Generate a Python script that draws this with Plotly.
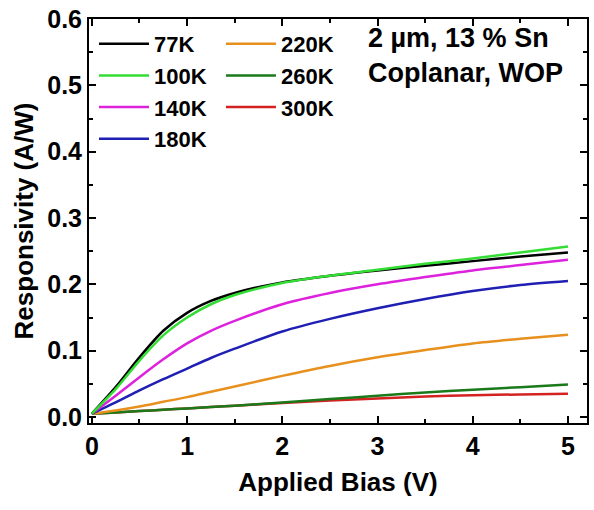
import plotly.graph_objects as go

bias = [0, 0.25, 0.5, 0.75, 1, 1.25, 1.5, 2, 2.5, 3, 3.5, 4, 4.5, 5]
r77 = [0.005, 0.045, 0.090, 0.130, 0.157, 0.175, 0.187, 0.203, 0.213, 0.221, 0.228, 0.235, 0.242, 0.248]
r100 = [0.005, 0.042, 0.085, 0.123, 0.150, 0.170, 0.184, 0.202, 0.213, 0.222, 0.231, 0.239, 0.248, 0.257]
r140 = [0.005, 0.032, 0.060, 0.087, 0.111, 0.130, 0.145, 0.170, 0.187, 0.200, 0.211, 0.221, 0.229, 0.237]
r180 = [0.005, 0.022, 0.040, 0.057, 0.073, 0.089, 0.103, 0.129, 0.148, 0.164, 0.178, 0.190, 0.199, 0.205]
r220 = [0.005, 0.010, 0.016, 0.023, 0.030, 0.038, 0.046, 0.062, 0.077, 0.090, 0.101, 0.111, 0.118, 0.124]
r260 = [0.005, 0.007, 0.009, 0.011, 0.013, 0.015, 0.017, 0.022, 0.027, 0.032, 0.037, 0.041, 0.045, 0.049]
r300 = [0.005, 0.007, 0.009, 0.011, 0.013, 0.015, 0.017, 0.021, 0.025, 0.028, 0.031, 0.033, 0.034, 0.035]

series = [
    ("77K", r77, "#000000", "legend", 1),
    ("100K", r100, "#33dd33", "legend", 2),
    ("140K", r140, "#dd22dd", "legend", 3),
    ("180K", r180, "#1f1fb4", "legend", 4),
    ("220K", r220, "#e8901e", "legend2", 5),
    ("260K", r260, "#1a7a1a", "legend2", 6),
    ("300K", r300, "#d42222", "legend2", 7),
]

fig = go.Figure()
for name, vals, col, leg, rank in [series[i] for i in [6, 5, 4, 3, 2, 0, 1]]:
    fig.add_trace(go.Scatter(x=bias, y=vals, mode="lines", name=name,
                             line=dict(color=col, width=2.5, shape="spline", smoothing=0.8),
                             legend=leg, legendrank=rank))

FAM = "Liberation Sans, Arial"
axis_common = dict(showline=True, linecolor="black", linewidth=2, mirror="ticks",
                   ticks="inside", ticklen=7, tickwidth=2, tickcolor="black",
                   showgrid=False, zeroline=False,
                   tickfont=dict(family=FAM, size=25, color="black", weight="bold"))

fig.update_layout(
    width=594, height=510,
    margin=dict(l=89, r=5, t=18, b=87),
    plot_bgcolor="white", paper_bgcolor="white",
    font=dict(family=FAM, size=22, color="black"),
    xaxis=dict(range=[-0.03, 5.2], tickvals=[0, 1, 2, 3, 4, 5],
               minor=dict(ticks="inside", ticklen=4, tickwidth=2, tickcolor="black", dtick=0.5),
               title=dict(text="Applied Bias (V)", font=dict(size=26, weight="bold"), standoff=14),
               **axis_common),
    yaxis=dict(range=[-0.009, 0.6], tickvals=[0, 0.1, 0.2, 0.3, 0.4, 0.5, 0.6], tickformat=".1f",
               minor=dict(ticks="inside", ticklen=4, tickwidth=2, tickcolor="black", dtick=0.05),
               title=dict(text="Responsivity (A/W)", font=dict(size=26, weight="bold"), standoff=6),
               **axis_common),
    legend=dict(x=0.01, y=0.99, xanchor="left", yanchor="top", bgcolor="rgba(0,0,0,0)",
                font=dict(size=22, weight="bold"), tracegroupgap=0, itemwidth=50,
                traceorder="normal"),
    legend2=dict(x=0.265, y=0.99, xanchor="left", yanchor="top", bgcolor="rgba(0,0,0,0)",
                 font=dict(size=22, weight="bold"), tracegroupgap=0, itemwidth=50,
                 traceorder="normal"),
    annotations=[dict(x=0.955, y=0.995, xref="paper", yref="paper", xanchor="right", yanchor="top",
                      text="2 µm, 13 % Sn<br>Coplanar, WOP", showarrow=False, align="left",
                      font=dict(size=27, weight="bold"))],
)
fig.write_html("out.html")
